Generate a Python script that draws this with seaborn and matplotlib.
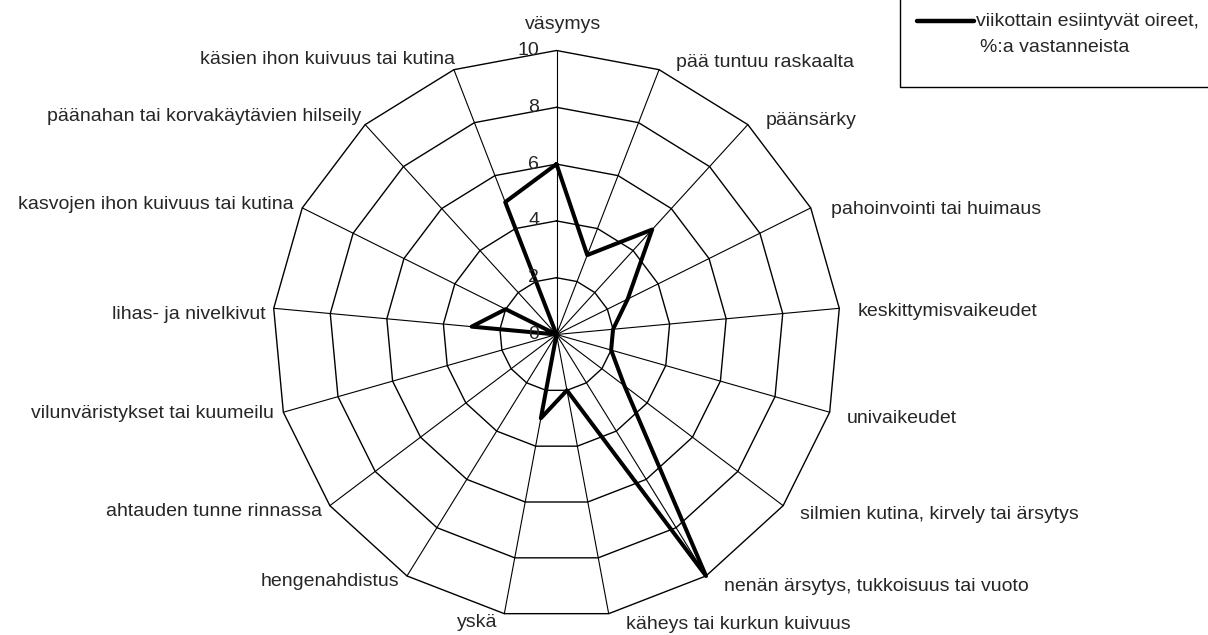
import numpy as np
import pandas as pd
import seaborn as sns
import matplotlib.pyplot as plt
from matplotlib.patches import Rectangle
from matplotlib.lines import Line2D

# Data: weekly symptoms, % of respondents
categories = [
    "väsymys",
    "pää tuntuu raskaalta",
    "päänsärky",
    "pahoinvointi tai huimaus",
    "keskittymisvaikeudet",
    "univaikeudet",
    "silmien kutina, kirvely tai ärsytys",
    "nenän ärsytys, tukkoisuus tai vuoto",
    "käheys tai kurkun kuivuus",
    "yskä",
    "hengenahdistus",
    "ahtauden tunne rinnassa",
    "vilunväristykset tai kuumeilu",
    "lihas- ja nivelkivut",
    "kasvojen ihon kuivuus tai kutina",
    "päänahan tai korvakäytävien hilseily",
    "käsien ihon kuivuus tai kutina",
]
values = [6, 3, 5, 2.8, 2, 2, 3, 10, 2, 3, 0, 0, 0, 3, 2, 0, 5]
ring_levels = [0, 2, 4, 6, 8, 10]
series_label = "viikottain esiintyvät oireet,"
series_label2 = "%:a vastanneista"

# label layout: (ha, dx px, dy px) relative to the outer vertex
label_layout = [
    ("center", 7, -26), ("left", 17, -7), ("left", 18, -4), ("left", 20, 2),
    ("left", 18, 3), ("left", 17, 6), ("left", 17, 9), ("left", 18, 11),
    ("left", 17, 11), ("right", -7, 9), ("right", -8, 6), ("right", -8, 6),
    ("right", -9, 1), ("right", -8, 6), ("right", -9, -3), ("right", -4, -8),
    ("right", 1, -10),
]

sns.set_style("white")
plt.rcParams['font.family'] = ['Liberation Sans', 'DejaVu Sans']
FS = 14

n = len(categories)
angles = np.linspace(0, 2 * np.pi, n, endpoint=False)
df = pd.DataFrame({
    "angle": np.append(angles, angles[0]),
    "value": values + values[:1],
})

fig = plt.figure(figsize=(12.08, 6.35), dpi=100)
ax = fig.add_axes([0.22558, 0.02598, 0.47020, 0.89449], projection="polar")
ax.set_theta_zero_location("N")
ax.set_theta_direction(-1)
ax.grid(False)
ax.spines["polar"].set_visible(False)
ax.set_xticks([])
ax.set_yticks([])

# polygon web
closed = np.append(angles, angles[0])
for lv in ring_levels[1:]:
    ax.plot(closed, [lv] * (n + 1), color="black", lw=1.0, clip_on=False)
for a in angles:
    ax.plot([a, a], [0, 10], color="black", lw=0.8, clip_on=False)

sns.lineplot(data=df, x="angle", y="value", sort=False, estimator=None,
             ax=ax, color="black", linewidth=2.9, legend=False)
ax.lines[-1].set_clip_on(False)
ax.set_ylim(0, 10)
ax.set_xlabel("")
ax.set_ylabel("")

# radial tick labels
for lv in ring_levels:
    ax.annotate(str(lv), xy=(0, lv), xytext=(-12.5, 0), textcoords="offset points",
                ha="right", va="center", fontsize=FS)

# category labels
px = 0.72
for a, lab, (ha, dx, dy) in zip(angles, categories, label_layout):
    ax.annotate(lab, xy=(a, 10), xytext=(dx * px, -dy * px), textcoords="offset points",
                ha=ha, va="center", fontsize=FS, annotation_clip=False)

# legend box (cut by the figure edge, like the original)
W, H = 1208, 635
fig.patches.append(Rectangle((900 / W, 1 - 87 / H), 330 / W, 100 / H, transform=fig.transFigure,
                             facecolor="white", edgecolor="black", lw=1.0))
fig.lines.append(Line2D([917 / W, 974 / W], [1 - 21 / H, 1 - 21 / H], transform=fig.transFigure,
                        color="black", lw=3.2))
fig.text(976 / W, 1 - 21 / H, series_label, ha="left", va="center", fontsize=FS)
fig.text(980 / W, 1 - 48 / H, series_label2, ha="left", va="center", fontsize=FS)

fig.savefig("out.png", dpi=100, facecolor="white")
